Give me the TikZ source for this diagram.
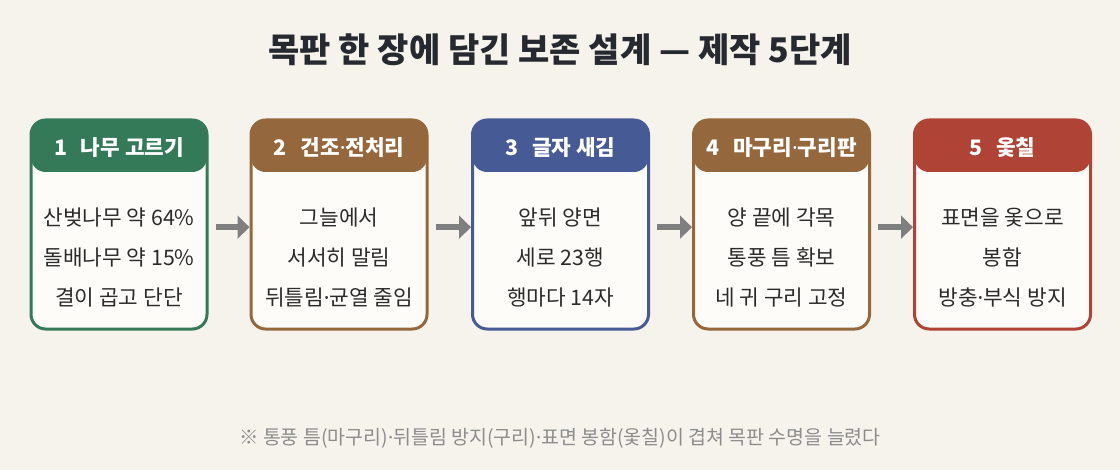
\documentclass[tikz,border=0pt]{standalone}
\usepackage{fontspec}
\setmainfont{Noto Sans CJK KR}
\newfontfamily\latinfont{Noto Sans}
\newcommand{\md}{{\latinfont ·}}
\usetikzlibrary{arrows.meta, positioning}

\definecolor{pagebg}{HTML}{F6F3EC}
\definecolor{cardbg}{HTML}{FDFCF8}
\definecolor{woodgreen}{HTML}{357A58}
\definecolor{woodbrown}{HTML}{94683C}
\definecolor{inkblue}{HTML}{465A95}
\definecolor{lacquerred}{HTML}{AF4335}
\definecolor{titleink}{HTML}{262A30}
\definecolor{bodyink}{HTML}{2B2B2B}
\definecolor{noteink}{HTML}{8C8C8C}
\definecolor{arrowgray}{HTML}{7F7F7F}

\begin{document}
\begin{tikzpicture}[x=0.75pt, y=-0.75pt]
    \tikzset{stepbox/.style={draw=#1, fill=cardbg, line width=2.25pt, rounded corners=11pt
    , minimum width=132pt, minimum height=156.75pt, inner sep=0pt
    , path picture={\fill[#1] (path picture bounding box.north west) rectangle
      ([yshift=-39pt]path picture bounding box.north east);}}}
    \tikzstyle{headtext}=[text=white, font=\bfseries\fontsize{16pt}{19pt}\selectfont, inner sep=0pt]
    \tikzstyle{bodytext}=[text=bodyink, align=center, font=\fontsize{16pt}{30pt}\selectfont, inner sep=0pt]
    \tikzstyle{flowarrow}=[draw=arrowgray, line width=4.2pt, -{Triangle[length=9pt, width=17pt]}]

    \useasboundingbox[fill=pagebg] (0,0) rectangle (1120,470);

    \node[text=titleink, font=\bfseries\fontsize{25.5pt}{30pt}\selectfont] (title) at (560,50)
      {목판 한 장에 담긴 보존 설계 — 제작 5단계};

    % five cards
    \node[stepbox=woodgreen] (s1) at (119,224.5) {};
    \node[stepbox=woodbrown] (s2) at (339,224.5) {};
    \node[stepbox=inkblue] (s3) at (560.5,224.5) {};
    \node[stepbox=woodbrown] (s4) at (781.5,224.5) {};
    \node[stepbox=lacquerred] (s5) at (1002.5,224.5) {};

    % headers
    \node[headtext] (h1) at ([yshift=-22pt]s1.north) {1\hspace{0.65em}나무 고르기};
    \node[headtext] (h2) at ([yshift=-22pt]s2.north) {2\hspace{0.65em}건조\md 전처리};
    \node[headtext] (h3) at ([yshift=-22pt]s3.north) {3\hspace{0.65em}글자 새김};
    \node[headtext] (h4) at ([yshift=-22pt]s4.north) {4\hspace{0.65em}마구리\md 구리판};
    \node[headtext] (h5) at ([yshift=-22pt]s5.north) {5\hspace{0.65em}옻칠};

    % card texts
    \node[bodytext] (b1) at ([yshift=-24.5pt]s1.center) {산벚나무 약 64\%\\돌배나무 약 15\%\\결이 곱고 단단};
    \node[bodytext] (b2) at ([yshift=-24.5pt]s2.center) {그늘에서\\서서히 말림\\뒤틀림\md 균열 줄임};
    \node[bodytext] (b3) at ([yshift=-24.5pt]s3.center) {앞뒤 양면\\세로 23행\\행마다 14자};
    \node[bodytext] (b4) at ([yshift=-24.5pt]s4.center) {양 끝에 각목\\통풍 틈 확보\\네 귀 구리 고정};
    \node[bodytext] (b5) at ([yshift=-24.5pt]s5.center) {표면을 옻으로\\봉함\\방충\md 부식 방지};

    % arrows
    \draw[flowarrow] ([xshift=5.25pt, yshift=-2pt]s1.east) -- ([yshift=-2pt]s2.west);
    \draw[flowarrow] ([xshift=5.25pt, yshift=-2pt]s2.east) -- ([yshift=-2pt]s3.west);
    \draw[flowarrow] ([xshift=5.25pt, yshift=-2pt]s3.east) -- ([yshift=-2pt]s4.west);
    \draw[flowarrow] ([xshift=5.25pt, yshift=-2pt]s4.east) -- ([yshift=-2pt]s5.west);

    \node[text=noteink, font=\fontsize{14.6pt}{17pt}\selectfont] (note) at (560,438)
      {※ 통풍 틈(마구리)\md 뒤틀림 방지(구리)\md 표면 봉함(옻칠)이 겹쳐 목판 수명을 늘렸다};
\end{tikzpicture}
\end{document}
